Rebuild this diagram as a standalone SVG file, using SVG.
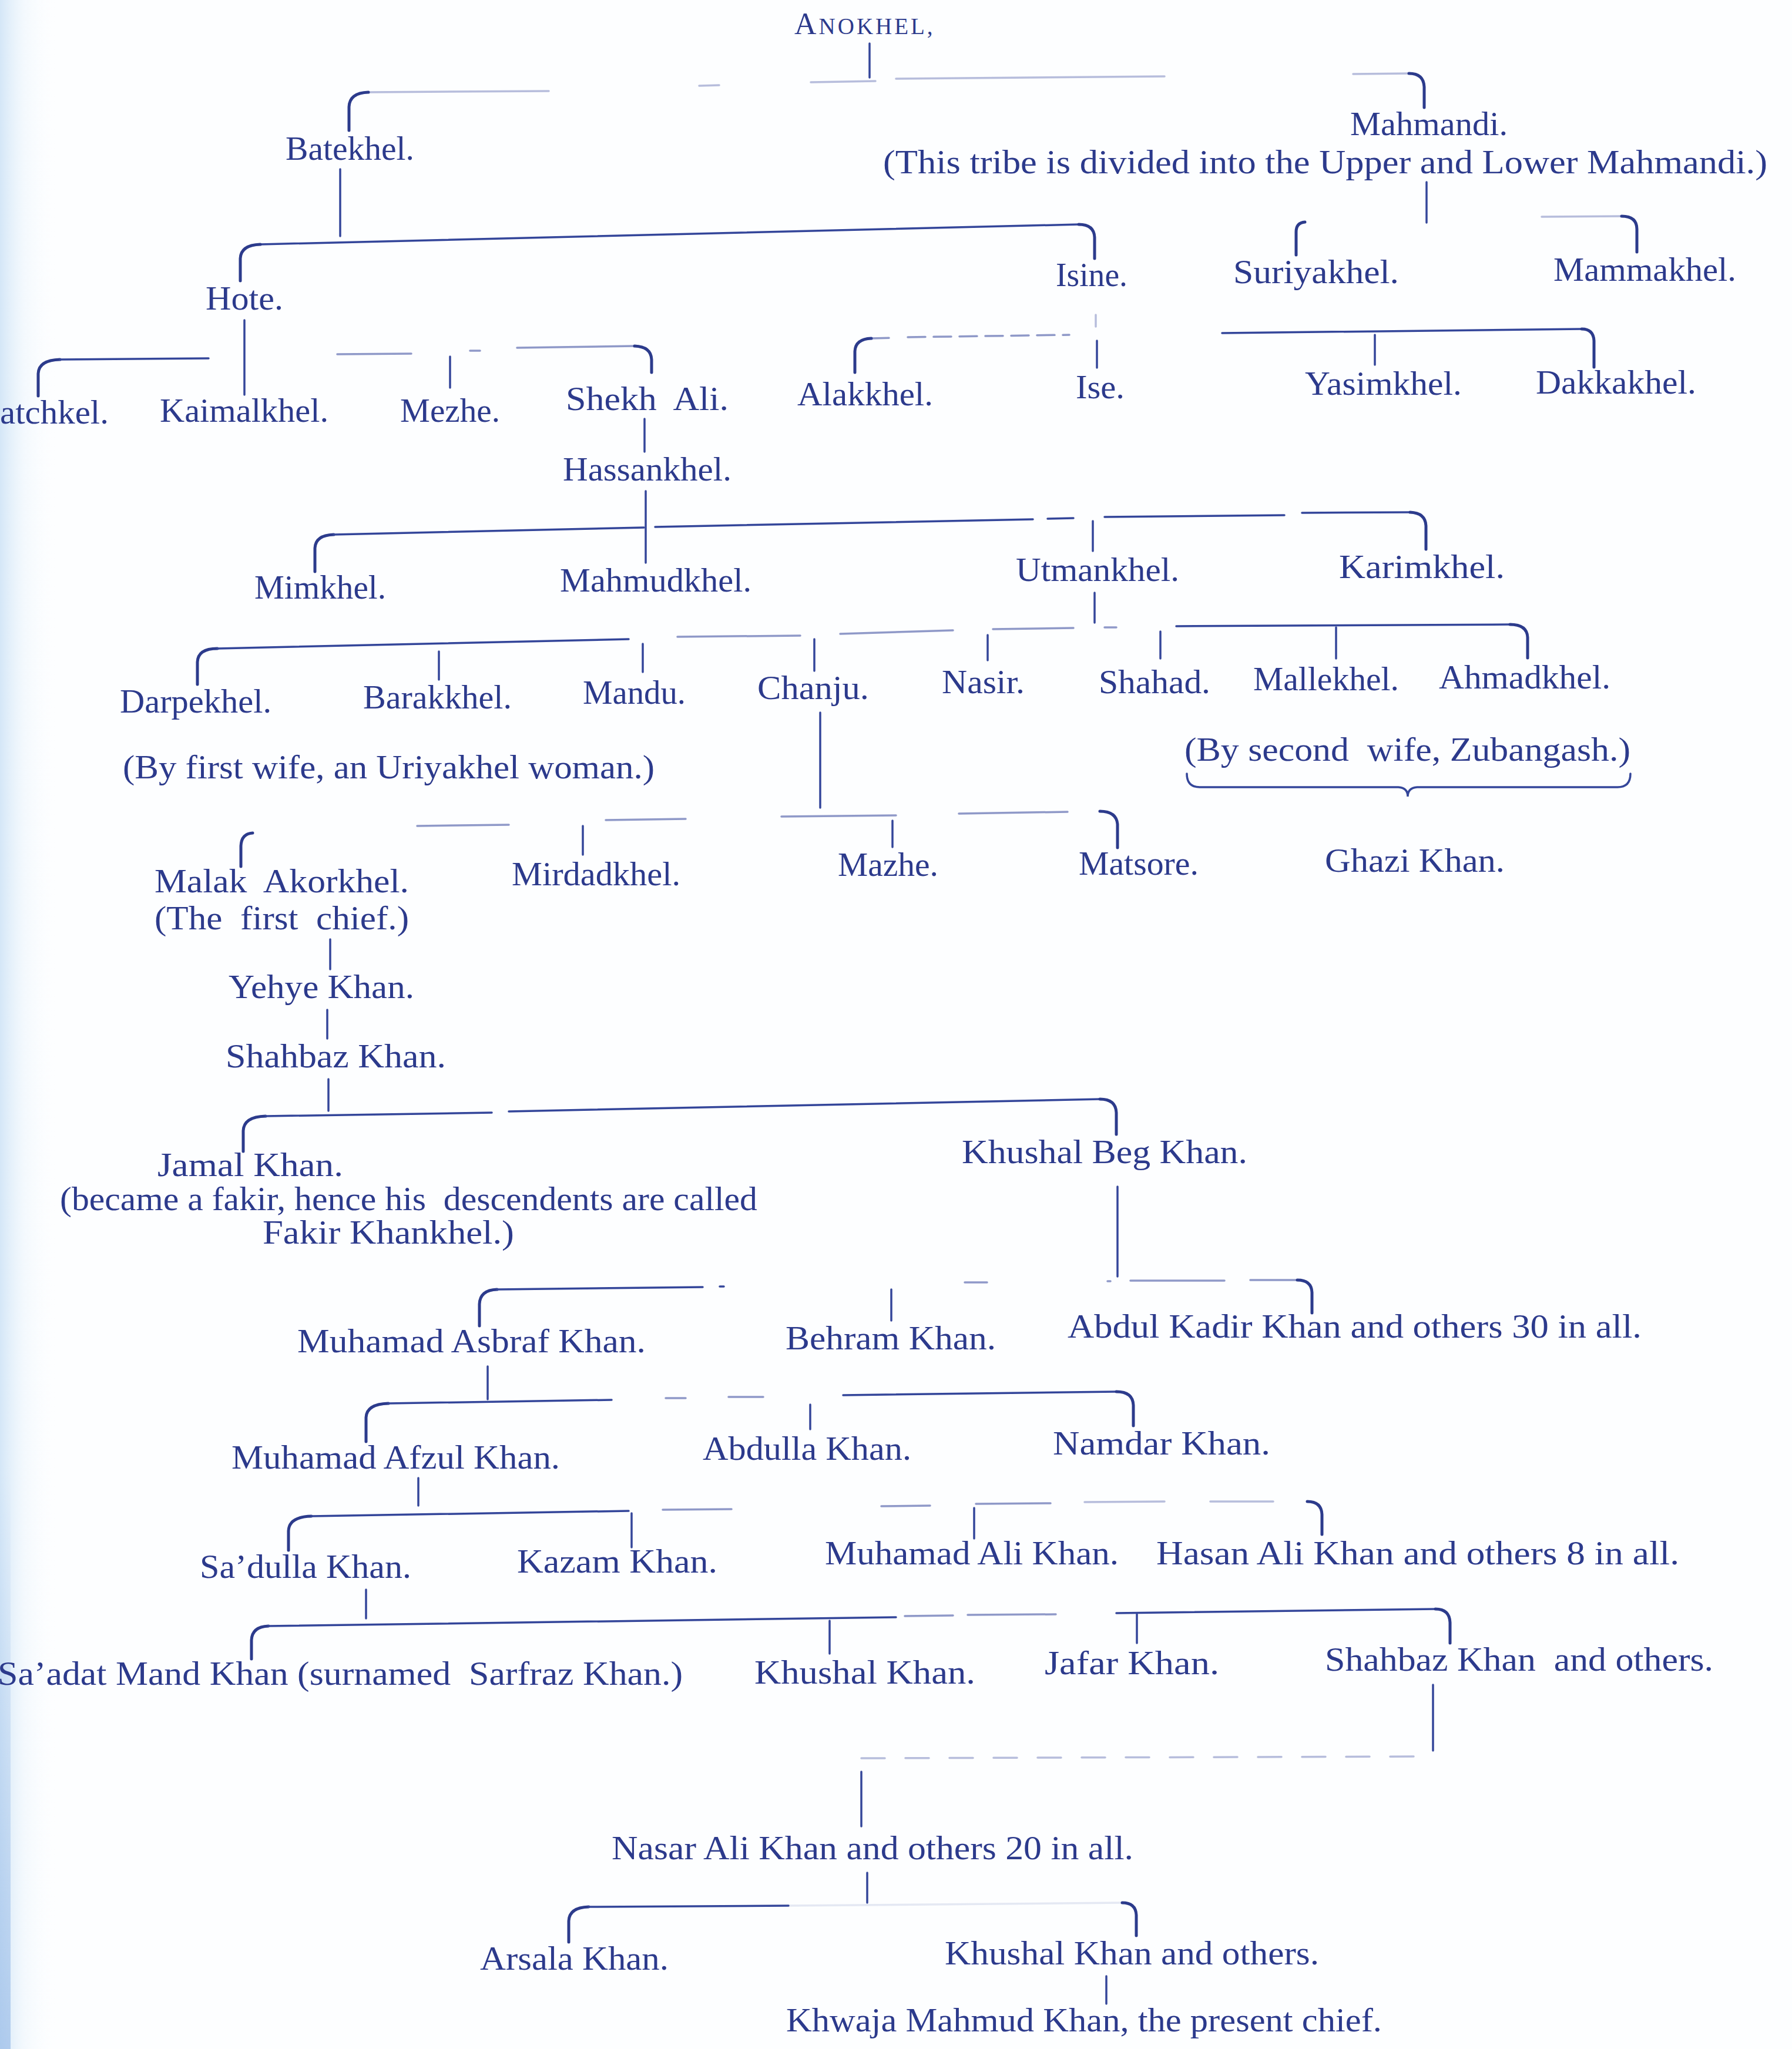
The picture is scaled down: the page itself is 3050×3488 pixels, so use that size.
<svg xmlns="http://www.w3.org/2000/svg" width="3050" height="3488" viewBox="0 0 3050 3488">
<defs>
<linearGradient id="edge" x1="0" y1="0" x2="1" y2="0">
<stop offset="0" stop-color="#b9d7f2" stop-opacity="0.6"/>
<stop offset="0.4" stop-color="#dcecf9" stop-opacity="0.3"/>
<stop offset="1" stop-color="#ffffff" stop-opacity="0"/>
</linearGradient>
<linearGradient id="edge2" x1="0" y1="0" x2="0" y2="1">
<stop offset="0" stop-color="#9bbde8" stop-opacity="0"/>
<stop offset="1" stop-color="#9bbde8" stop-opacity="0.7"/>
</linearGradient>
</defs>
<style>
.t{font-family:"Liberation Serif","Times New Roman",serif;font-size:56px;fill:#2c3a8c}
.ln{fill:none;stroke:#34469a;stroke-width:3.5;stroke-linecap:round}
.hk{fill:none;stroke:#2c3b8c;stroke-width:5;stroke-linecap:round}
.f1{stroke-opacity:0.55}
.f2{stroke-opacity:0.35}
</style>
<rect width="3050" height="3488" fill="#fdfeff"/>
<rect x="0" y="0" width="100" height="3488" fill="url(#edge)"/>
<rect x="0" y="2500" width="18" height="988" fill="url(#edge2)"/>

<g id="connectors">
<path class="ln" d="M1480 74 V132"/>
<path class="ln f2" d="M627 157 L934 155 M1190 146 L1224 145 M1380 140 L1490 138 M1525 134 L1982 130 M2303 126 L2398 125"/>
<path class="hk" d="M627 157 Q595 158 594 182 L594 222"/>
<path class="hk" d="M2398 125 Q2423 125 2424 148 L2424 183"/>

<path class="ln" d="M579 288 V402"/>
<path class="ln" d="M443 416 L1836 382"/>
<path class="hk" d="M443 416 Q410 417 409 440 L409 478"/>
<path class="hk" d="M1836 382 Q1862 382 1863 404 L1863 440"/>
<path class="ln f2" d="M1865 536 V556"/>
<path class="hk" d="M1483 576 Q1456 577 1455 598 L1455 634"/>
<path class="ln f1" d="M1483 576 L1525 575 M1545 574 L1820 570" stroke-dasharray="30 14"/>
<path class="ln" d="M1867 580 V626"/>

<path class="ln" d="M2428 310 V379"/>
<path class="hk" d="M2221 378 Q2206 379 2206 395 L2206 434"/>
<path class="hk" d="M2760 368 Q2786 368 2786 390 L2786 429"/>
<path class="ln f2" d="M2624 369 L2760 368"/>
<path class="ln" d="M2080 567 L2692 560"/>
<path class="hk" d="M2692 560 Q2712 560 2713 580 L2713 625"/>
<path class="ln" d="M2340 570 V621"/>

<path class="ln" d="M416 545 V672"/>
<path class="hk" d="M102 612 Q66 613 65 636 L65 674"/>
<path class="ln" d="M102 612 L355 610"/>
<path class="ln f1" d="M574 603 L700 602 M800 597 L817 597 M880 592 L1080 589"/>
<path class="hk" d="M1080 589 Q1108 590 1109 612 L1109 634"/>
<path class="ln" d="M766 607 V660"/>
<path class="ln" d="M1097 713 V769"/>
<path class="ln" d="M1099 836 V958"/>
<path class="hk" d="M568 910 Q537 911 536 933 L536 973"/>
<path class="ln" d="M568 910 L1096 898 M1115 897 L1758 884 M1783 883 L1827 882 M1880 880 L2186 877 M2216 873 L2400 872"/>
<path class="hk" d="M2400 872 Q2426 873 2427 895 L2427 935"/>
<path class="ln" d="M1860 887 V938"/>
<path class="ln" d="M1863 1009 V1060"/>

<path class="hk" d="M370 1104 Q337 1104 336 1127 L336 1165"/>
<path class="ln" d="M370 1104 L1070 1088"/>
<path class="ln f1" d="M1153 1084 L1362 1082 M1430 1079 L1622 1073 M1690 1071 L1827 1069 M1880 1068 L1900 1068"/>
<path class="ln" d="M2002 1066 L2570 1063"/>
<path class="hk" d="M2570 1063 Q2599 1063 2600 1085 L2600 1120"/>
<path class="ln" d="M747 1109 V1157 M1094 1096 V1144 M1386 1088 V1142 M1681 1081 V1124 M1975 1075 V1121 M2274 1068 V1121"/>

<path class="ln" d="M1396 1213 V1375"/>
<path class="hk" d="M430 1418 Q411 1419 410 1440 L410 1475"/>
<path class="ln f1" d="M710 1406 L866 1404 M1031 1396 L1167 1394 M1330 1390 L1525 1388 M1632 1385 L1817 1382"/>
<path class="hk" d="M1872 1381 Q1900 1381 1902 1403 L1902 1443"/>
<path class="ln" d="M992 1406 V1455 M1519 1397 V1442"/>
<path class="ln" d="M2020 1317 Q2020 1340 2042 1340 L2380 1340 Q2396 1341 2396 1356 Q2396 1341 2412 1340 L2753 1340 Q2775 1340 2775 1317"/>

<path class="ln" d="M562 1599 V1650 M557 1719 V1768 M559 1837 V1891"/>
<path class="hk" d="M452 1900 Q415 1901 414 1925 L414 1960"/>
<path class="ln" d="M452 1900 L837 1894 M866 1892 L1872 1871"/>
<path class="hk" d="M1872 1871 Q1899 1871 1900 1894 L1900 1931"/>
<path class="ln" d="M1902 2020 V2173"/>

<path class="hk" d="M846 2195 Q817 2196 816 2220 L816 2257"/>
<path class="ln" d="M846 2195 L1196 2191 M1225 2190 L1232 2190"/>
<path class="ln f1" d="M1642 2183 L1680 2183 M1885 2181 L1890 2181 M1924 2180 L2084 2180 M2128 2179 L2208 2179"/>
<path class="hk" d="M2208 2179 Q2232 2179 2233 2200 L2233 2235"/>
<path class="ln" d="M1517 2195 V2248"/>
<path class="ln" d="M830 2326 V2382"/>

<path class="hk" d="M661 2389 Q624 2390 623 2413 L623 2454"/>
<path class="ln" d="M661 2389 L1041 2383"/>
<path class="ln f1" d="M1133 2380 L1167 2380 M1240 2378 L1299 2378"/>
<path class="ln" d="M1435 2375 L1900 2369"/>
<path class="hk" d="M1900 2369 Q1928 2369 1929 2392 L1929 2427"/>
<path class="ln" d="M1379 2391 V2433"/>
<path class="ln" d="M712 2516 V2563"/>

<path class="hk" d="M530 2581 Q492 2582 491 2606 L491 2639"/>
<path class="ln" d="M530 2581 L1070 2572"/>
<path class="ln f1" d="M1128 2570 L1245 2569 M1500 2564 L1583 2563 M1661 2560 L1788 2559"/>
<path class="ln f2" d="M1846 2557 L1982 2556 M2060 2556 L2167 2556"/>
<path class="hk" d="M2225 2556 Q2249 2556 2250 2578 L2250 2612"/>
<path class="ln" d="M1075 2576 V2634 M1658 2567 V2619"/>
<path class="ln" d="M623 2706 V2755"/>

<path class="hk" d="M457 2768 Q429 2769 428 2792 L428 2824"/>
<path class="ln" d="M457 2768 L1525 2753"/>
<path class="ln f1" d="M1540 2751 L1622 2750 M1647 2749 L1797 2748"/>
<path class="ln" d="M1900 2746 L2443 2739"/>
<path class="hk" d="M2443 2739 Q2467 2739 2468 2762 L2468 2797"/>
<path class="ln" d="M1412 2759 V2815 M1935 2748 V2797"/>
<path class="ln" d="M2439 2868 V2980"/>
<path class="ln f2" d="M1466 2993 L2439 2990" stroke-dasharray="40 35"/>
<path class="ln" d="M1466 3016 V3109"/>
<path class="ln" d="M1476 3188 V3239"/>

<path class="hk" d="M1002 3246 Q969 3247 968 3270 L968 3306"/>
<path class="ln" d="M1002 3246 L1342 3244"/>
<path class="ln" stroke-opacity="0.12" d="M1342 3244 L1910 3239"/>
<path class="hk" d="M1910 3239 Q1933 3239 1934 3260 L1934 3295"/>
<path class="ln" d="M1883 3364 V3411"/>
</g>

<g id="n-anokhel"><text class="t" x="1352" y="58" letter-spacing="4"><tspan font-size="52">A</tspan><tspan font-size="39">NOKHEL,</tspan></text></g>
<g id="n-batekhel"><text class="t" x="486" y="272" textLength="219" lengthAdjust="spacingAndGlyphs">Batekhel.</text></g>
<g id="n-mahmandi"><text class="t" x="2298" y="230" textLength="268" lengthAdjust="spacingAndGlyphs">Mahmandi.</text>
<text class="t" x="1503" y="295" textLength="1505" lengthAdjust="spacingAndGlyphs">(This tribe is divided into the Upper and Lower Mahmandi.)</text></g>
<g id="n-hote"><text class="t" x="350" y="527" textLength="132" lengthAdjust="spacingAndGlyphs">Hote.</text></g>
<g id="n-isine"><text class="t" x="1797" y="487" textLength="122" lengthAdjust="spacingAndGlyphs">Isine.</text></g>
<g id="n-suriyakhel"><text class="t" x="2099" y="482" textLength="282" lengthAdjust="spacingAndGlyphs">Suriyakhel.</text></g>
<g id="n-mammakhel"><text class="t" x="2644" y="478" textLength="311" lengthAdjust="spacingAndGlyphs">Mammakhel.</text></g>
<g id="n-atchkel"><text class="t" x="0" y="721" textLength="185" lengthAdjust="spacingAndGlyphs">atchkel.</text></g>
<g id="n-kaimalkhel"><text class="t" x="272" y="718" textLength="287" lengthAdjust="spacingAndGlyphs">Kaimalkhel.</text></g>
<g id="n-mezhe1"><text class="t" x="681" y="718" textLength="170" lengthAdjust="spacingAndGlyphs">Mezhe.</text></g>
<g id="n-shekhali"><text class="t" x="963" y="698" textLength="277" lengthAdjust="spacingAndGlyphs" xml:space="preserve">Shekh  Ali.</text></g>
<g id="n-alakkhel"><text class="t" x="1357" y="690" textLength="231" lengthAdjust="spacingAndGlyphs">Alakkhel.</text></g>
<g id="n-ise"><text class="t" x="1831" y="678" textLength="83" lengthAdjust="spacingAndGlyphs">Ise.</text></g>
<g id="n-yasimkhel"><text class="t" x="2221" y="672" textLength="267" lengthAdjust="spacingAndGlyphs">Yasimkhel.</text></g>
<g id="n-dakkakhel"><text class="t" x="2614" y="670" textLength="273" lengthAdjust="spacingAndGlyphs">Dakkakhel.</text></g>
<g id="n-hassankhel"><text class="t" x="958" y="818" textLength="287" lengthAdjust="spacingAndGlyphs">Hassankhel.</text></g>
<g id="n-mimkhel"><text class="t" x="433" y="1019" textLength="224" lengthAdjust="spacingAndGlyphs">Mimkhel.</text></g>
<g id="n-mahmudkhel"><text class="t" x="953" y="1007" textLength="326" lengthAdjust="spacingAndGlyphs">Mahmudkhel.</text></g>
<g id="n-utmankhel"><text class="t" x="1729" y="989" textLength="278" lengthAdjust="spacingAndGlyphs">Utmankhel.</text></g>
<g id="n-karimkhel"><text class="t" x="2279" y="984" textLength="282" lengthAdjust="spacingAndGlyphs">Karimkhel.</text></g>
<g id="n-darpekhel"><text class="t" x="204" y="1213" textLength="258" lengthAdjust="spacingAndGlyphs">Darpekhel.</text></g>
<g id="n-barakkhel"><text class="t" x="618" y="1206" textLength="253" lengthAdjust="spacingAndGlyphs">Barakkhel.</text></g>
<g id="n-mandu"><text class="t" x="992" y="1198" textLength="175" lengthAdjust="spacingAndGlyphs">Mandu.</text></g>
<g id="n-chanju"><text class="t" x="1289" y="1190" textLength="190" lengthAdjust="spacingAndGlyphs">Chanju.</text></g>
<g id="n-nasir"><text class="t" x="1603" y="1180" textLength="141" lengthAdjust="spacingAndGlyphs">Nasir.</text></g>
<g id="n-shahad"><text class="t" x="1870" y="1180" textLength="190" lengthAdjust="spacingAndGlyphs">Shahad.</text></g>
<g id="n-mallekhel"><text class="t" x="2133" y="1175" textLength="248" lengthAdjust="spacingAndGlyphs">Mallekhel.</text></g>
<g id="n-ahmadkhel"><text class="t" x="2449" y="1172" textLength="292" lengthAdjust="spacingAndGlyphs">Ahmadkhel.</text></g>
<g id="n-note-first-wife"><text class="t" x="209" y="1325" textLength="905" lengthAdjust="spacingAndGlyphs">(By first wife, an Uriyakhel woman.)</text></g>
<g id="n-note-second-wife"><text class="t" x="2016" y="1295" textLength="759" lengthAdjust="spacingAndGlyphs" xml:space="preserve">(By second  wife, Zubangash.)</text></g>
<g id="n-malak"><text class="t" x="263" y="1519" font-size="54" textLength="433" lengthAdjust="spacingAndGlyphs" xml:space="preserve">Malak  Akorkhel.</text>
<text class="t" x="263" y="1582" font-size="54" textLength="433" lengthAdjust="spacingAndGlyphs" xml:space="preserve">(The  first  chief.)</text></g>
<g id="n-mirdadkhel"><text class="t" x="871" y="1507" textLength="287" lengthAdjust="spacingAndGlyphs">Mirdadkhel.</text></g>
<g id="n-mazhe2"><text class="t" x="1426" y="1491" textLength="171" lengthAdjust="spacingAndGlyphs">Mazhe.</text></g>
<g id="n-matsore"><text class="t" x="1836" y="1489" textLength="204" lengthAdjust="spacingAndGlyphs">Matsore.</text></g>
<g id="n-ghazi"><text class="t" x="2255" y="1484" textLength="306" lengthAdjust="spacingAndGlyphs">Ghazi Khan.</text></g>
<g id="n-yehye"><text class="t" x="389" y="1699" textLength="316" lengthAdjust="spacingAndGlyphs">Yehye Khan.</text></g>
<g id="n-shahbaz1"><text class="t" x="384" y="1817" textLength="375" lengthAdjust="spacingAndGlyphs">Shahbaz Khan.</text></g>
<g id="n-jamal"><text class="t" x="268" y="2002" font-size="52" textLength="316" lengthAdjust="spacingAndGlyphs">Jamal Khan.</text>
<text class="t" x="102" y="2060" font-size="52" textLength="1187" lengthAdjust="spacingAndGlyphs" xml:space="preserve">(became a fakir, hence his  descendents are called</text>
<text class="t" x="447" y="2117" font-size="52" textLength="428" lengthAdjust="spacingAndGlyphs">Fakir Khankhel.)</text></g>
<g id="n-khushalbeg"><text class="t" x="1637" y="1980" textLength="486" lengthAdjust="spacingAndGlyphs">Khushal Beg Khan.</text></g>
<g id="n-asbraf"><text class="t" x="506" y="2302" textLength="593" lengthAdjust="spacingAndGlyphs">Muhamad Asbraf Khan.</text></g>
<g id="n-behram"><text class="t" x="1337" y="2297" textLength="358" lengthAdjust="spacingAndGlyphs">Behram Khan.</text></g>
<g id="n-abdulkadir"><text class="t" x="1817" y="2277" textLength="977" lengthAdjust="spacingAndGlyphs">Abdul Kadir Khan and others 30 in all.</text></g>
<g id="n-afzul"><text class="t" x="394" y="2500" textLength="559" lengthAdjust="spacingAndGlyphs">Muhamad Afzul Khan.</text></g>
<g id="n-abdulla"><text class="t" x="1196" y="2485" textLength="355" lengthAdjust="spacingAndGlyphs">Abdulla Khan.</text></g>
<g id="n-namdar"><text class="t" x="1792" y="2476" textLength="370" lengthAdjust="spacingAndGlyphs">Namdar Khan.</text></g>
<g id="n-sadulla"><text class="t" x="340" y="2686" textLength="360" lengthAdjust="spacingAndGlyphs">Sa’dulla Khan.</text></g>
<g id="n-kazam"><text class="t" x="880" y="2677" textLength="341" lengthAdjust="spacingAndGlyphs">Kazam Khan.</text></g>
<g id="n-muhamadali"><text class="t" x="1404" y="2663" textLength="500" lengthAdjust="spacingAndGlyphs">Muhamad Ali Khan.</text></g>
<g id="n-hasanali"><text class="t" x="1968" y="2663" textLength="890" lengthAdjust="spacingAndGlyphs">Hasan Ali Khan and others 8 in all.</text></g>
<g id="n-saadat"><text class="t" x="-4" y="2868" textLength="1166" lengthAdjust="spacingAndGlyphs" xml:space="preserve">Sa’adat Mand Khan (surnamed  Sarfraz Khan.)</text></g>
<g id="n-khushal1"><text class="t" x="1284" y="2866" textLength="376" lengthAdjust="spacingAndGlyphs">Khushal Khan.</text></g>
<g id="n-jafar"><text class="t" x="1778" y="2850" textLength="297" lengthAdjust="spacingAndGlyphs">Jafar Khan.</text></g>
<g id="n-shahbaz2"><text class="t" x="2255" y="2844" textLength="661" lengthAdjust="spacingAndGlyphs" xml:space="preserve">Shahbaz Khan  and others.</text></g>
<g id="n-nasarali"><text class="t" x="1041" y="3165" textLength="888" lengthAdjust="spacingAndGlyphs">Nasar Ali Khan and others 20 in all.</text></g>
<g id="n-arsala"><text class="t" x="817" y="3353" textLength="321" lengthAdjust="spacingAndGlyphs">Arsala Khan.</text></g>
<g id="n-khushal2"><text class="t" x="1608" y="3344" textLength="637" lengthAdjust="spacingAndGlyphs">Khushal Khan and others.</text></g>
<g id="n-khwaja"><text class="t" x="1338" y="3458" textLength="1014" lengthAdjust="spacingAndGlyphs">Khwaja Mahmud Khan, the present chief.</text></g>
</svg>
